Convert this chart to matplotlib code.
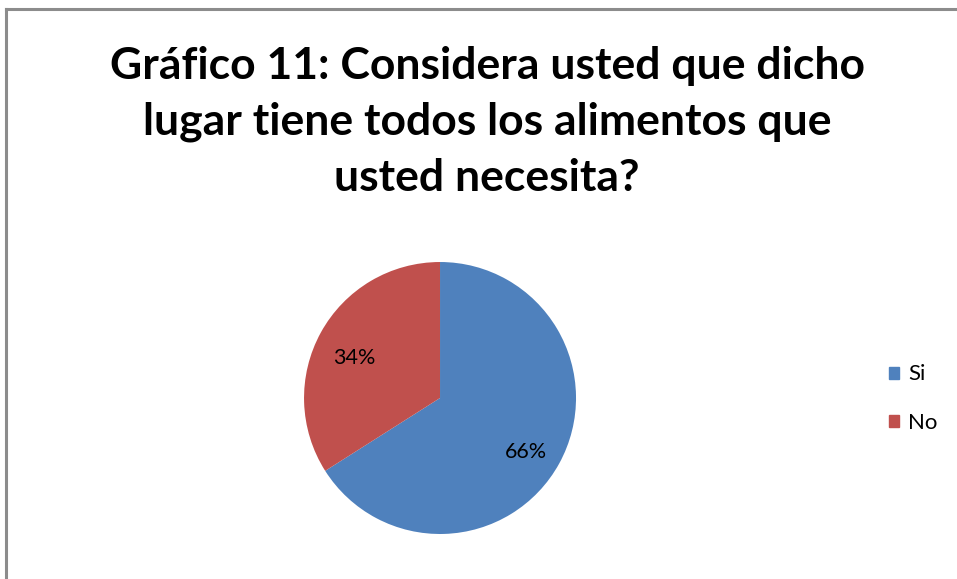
import matplotlib.pyplot as plt
from matplotlib.patches import Rectangle
from matplotlib.lines import Line2D

categorias = ['Si', 'No']
valores = [66, 34]
colores = ['#4F81BD', '#C0504D']
titulo = 'Gráfico 11: Considera usted que dicho\nlugar tiene todos los alimentos que\nusted necesita?'

plt.rcParams['font.family'] = ['Lato', 'DejaVu Sans']

fig = plt.figure(figsize=(9.57, 5.79), dpi=100)

# marco gris del area del grafico
fig.add_artist(Line2D([6 / 957, 1.0], [1 - 8.5 / 579] * 2, color='#8c8c8c', lw=2.2))
fig.add_artist(Line2D([6 / 957] * 2, [0.0, 1 - 8.5 / 579], color='#8c8c8c', lw=2.2))

fig.text(0.509, 0.92, titulo, ha='center', va='top', fontsize=32, fontweight='bold',
         linespacing=1.47, color='#000000')

ax = fig.add_axes([0.4598 - 0.1421, 0.3126 - 0.2349, 0.2842, 0.4698])
cunas, textos, autotextos = ax.pie(valores, colors=colores, startangle=90, counterclock=False,
                                   autopct='%1.0f%%', pctdistance=0.72,
                                   textprops={'fontsize': 15.5, 'color': '#000000'})
for t in autotextos:
    x, y = t.get_position()
    t.set_position((x, y - 0.05))
ax.set_xlim(-1, 1)
ax.set_ylim(-1, 1)
ax.set_aspect('equal')

handles = [Rectangle((0, 0), 1, 1, color=c) for c in colores]
fig.legend(handles, categorias, loc='center left', bbox_to_anchor=(0.908, 0.311),
           frameon=False, fontsize=16, handlelength=0.45, handleheight=0.45,
           handletextpad=0.4, labelspacing=1.3)

fig.savefig('out.png', dpi=100)
